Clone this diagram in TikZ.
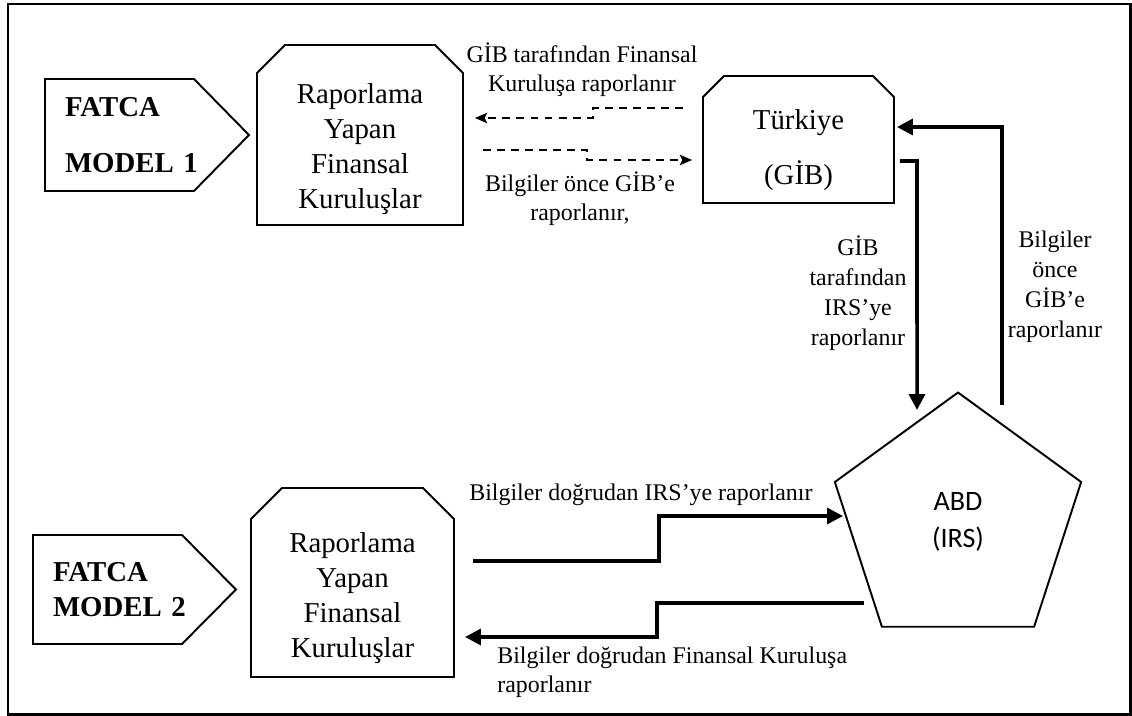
\documentclass[tikz,border=0pt]{standalone}
\usepackage{fontspec}
\setmainfont{Liberation Serif}
\newfontfamily\calibri{Carlito}
\usetikzlibrary{arrows.meta,calc,shapes.geometric}

\begin{document}
\begin{tikzpicture}[x=0.02cm,y=-0.02cm,
    box/.style={line width=1.1pt,line join=miter},
    big/.style={font=\fontsize{16.4}{20}\selectfont,align=center,inner sep=0pt,
                outer sep=0pt},
    fatca/.style={font=\fontsize{16.4}{20}\selectfont\bfseries,align=left,
                  text width=2.18cm,inner xsep=0.4cm,inner ysep=0pt,outer sep=0pt},
    lbl/.style={font=\fontsize{13.6}{16.6}\selectfont,align=center,inner sep=0pt},
    solidarr/.style={line width=2pt,-{Triangle[length=9pt,width=9pt]}},
    dasharr/.style={line width=1.1pt,dash pattern=on 4.5pt off 3.5pt,
                    -{Stealth[length=7pt,width=6pt,inset=1.5pt]}}]
  \useasboundingbox (0,0) rectangle (1132,716);
  \draw[line width=1.7pt] (8,4) rectangle (1130,714);

  % model kutulari (ok biçimli)
  \node[fatca,minimum height=2.24cm] (m1) at (119.5,135) {FATCA\\[11.5pt]\mbox{MODEL 1}};
  \node[fatca,minimum height=2.18cm] (m2) at (107.5,589.5) {FATCA\\\mbox{MODEL 2}};
  \foreach \n/\t in {m1/55,m2/54}
    \draw[box] (\n.north west) -- (\n.north east) -- ($(\n.east)+(\t,0)$)
      -- (\n.south east) -- (\n.south west) -- cycle;

  % kurumlar (köşeleri kesik kutular)
  \node[big,minimum width=4.12cm,minimum height=3.04cm] (rk1) at (360,149)
    {Raporlama\\Yapan\\Finansal\\Kuruluşlar};
  \node[big,minimum width=4.06cm,minimum height=3.16cm] (rk2) at (352.5,598)
    {Raporlama\\Yapan\\Finansal\\Kuruluşlar};
  \node[big,minimum width=3.82cm,minimum height=2.12cm] (tr) at (798.5,150)
    {Türkiye\\[11pt](GİB)};
  \foreach \n/\c in {rk1/28,rk2/31,tr/21}
    \draw[box] (\n.north west) -- ++(\c,-\c) -- ($(\n.north east)+(-\c,-\c)$)
      -- (\n.north east) -- (\n.south east) -- (\n.south west) -- cycle;

  \node[box,draw,shape=regular polygon,regular polygon sides=5,minimum size=5.18cm,
        inner sep=0pt,align=center,font=\calibri\fontsize{16}{21}\selectfont]
    (abd) at (958,522) {ABD\\(IRS)};

  % model 1 akislari
  \draw[dasharr] ($(tr.west)+(-20,-42)$) -- ++(-90,0) -- ++(0,10)
    -- ($(rk1.east)+(12,-31)$);
  \draw[dasharr] ($(rk1.east)+(20,1)$) -- ++(104,0) -- ++(0,10)
    -- ($(tr.west)+(-11,10)$);
  \draw[solidarr] ($(tr.east)+(6,11)$) -- ++(17,0) -- ($(abd.center)+(-41,-112)$);
  \draw[solidarr] ($(abd.center)+(44,-117)$) |- ($(tr.east)+(3,-23)$);

  % model 2 akislari
  \draw[solidarr] ($(rk2.east)+(19,-37)$) -- ++(186,0) -- ++(0,-45)
    -- ($(abd.center)+(-115,-6)$);
  \draw[solidarr] ($(abd.center)+(-94,81)$) -- ++(-207,0) -- ++(0,34)
    -- ($(rk2.east)+(11,39)$);

  % etiketler
  \node[lbl] (l1) at (582,70) {GİB tarafından Finansal\\Kuruluşa raporlanır};
  \node[lbl] (l2) at (580,199) {Bilgiler önce GİB’e\\raporlanır,};
  \node[lbl,font=\fontsize{13.6}{17}\selectfont] (l3) at (858,293)
    {GİB\\tarafından\\IRS’ye\\raporlanır};
  \node[lbl,font=\fontsize{13.6}{17}\selectfont] (l4) at (1055,287)
    {Bilgiler\\önce\\GİB’e\\raporlanır};
  \node[lbl,anchor=base west] (l5) at (469,500) {Bilgiler doğrudan IRS’ye raporlanır};
  \node[lbl,align=left,anchor=west] (l6) at (497,672)
    {Bilgiler doğrudan Finansal Kuruluşa\\raporlanır};
\end{tikzpicture}
\end{document}
